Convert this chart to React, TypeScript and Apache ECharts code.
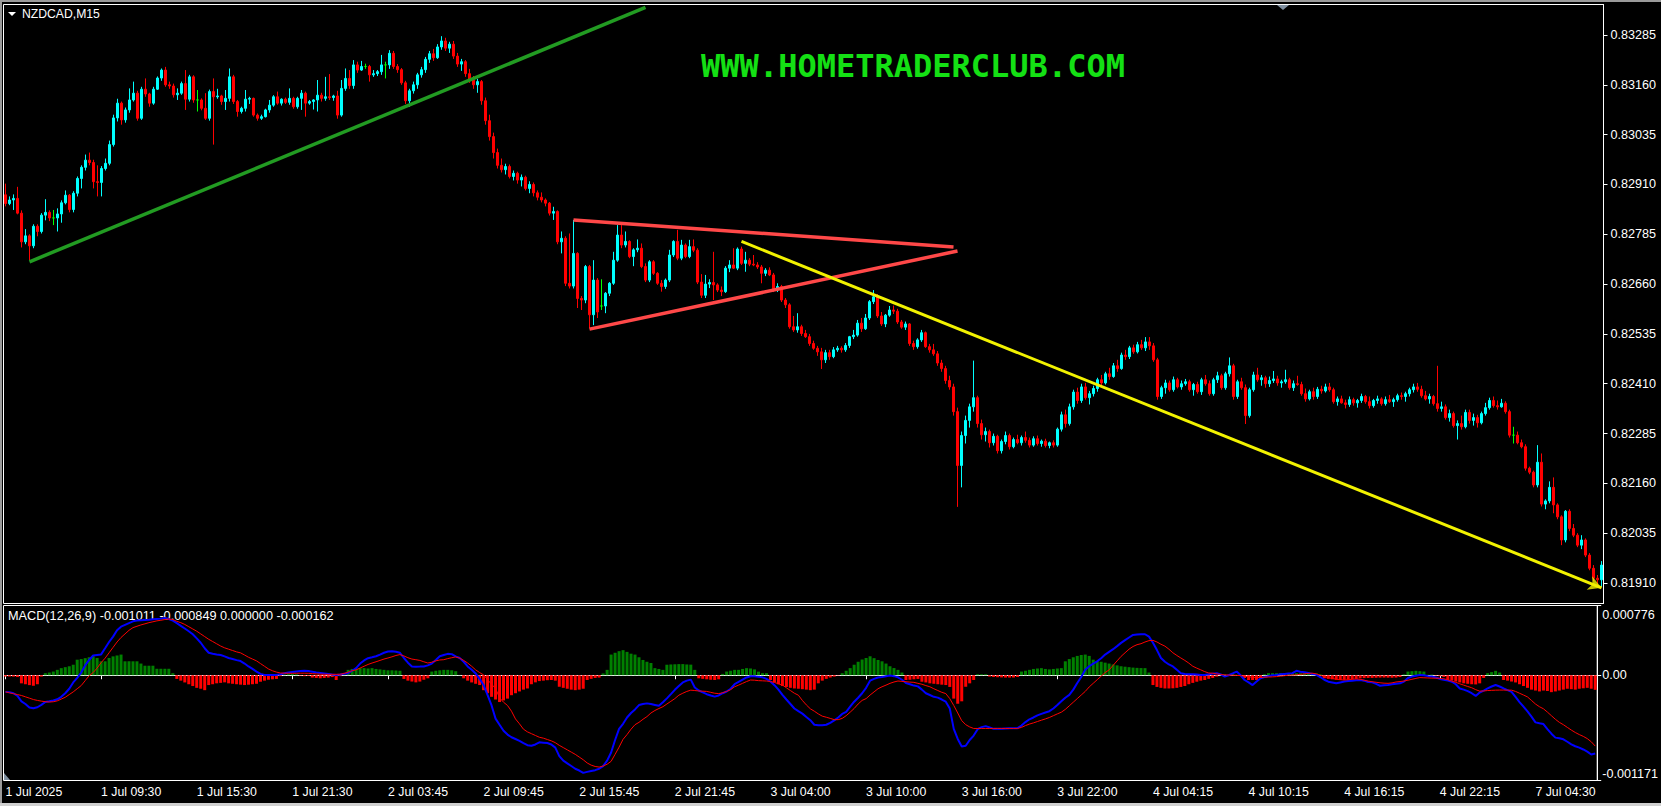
import { useEffect, useRef } from 'react';
import * as echarts from 'echarts';

// Prices are stored in points (1e-5) above 0.80000; MACD values in 1e-6 units.
const PRICE_BASE = 0.8;
const PRICE_UNIT = 1e-5;
const MACD_UNIT = 1e-6;

// [open, high, low, close]
const candles = [
  [2884,2912,2855,2862],[2862,2880,2858,2871],[2871,2885,2846,2875],[2875,2904,2835,2838],[2838,2845,2752,2766],[2766,2798,2760,2781],[2781,2785,2720,2756],[2756,2810,2750,2805],[2805,2810,2780,2792],[2792,2838,2787,2833],
  [2833,2873,2820,2840],[2840,2845,2818,2826],[2826,2846,2808,2826],[2826,2850,2792,2836],[2836,2870,2814,2864],[2864,2895,2860,2883],[2883,2886,2840,2847],[2847,2893,2840,2888],[2888,2930,2880,2925],[2925,2958,2900,2953],
  [2953,2985,2945,2971],[2971,2990,2958,2965],[2965,2972,2900,2917],[2917,2958,2880,2915],[2915,2956,2880,2950],[2950,2975,2945,2963],[2963,3020,2958,3010],[3010,3085,3005,3077],[3077,3125,3068,3114],[3114,3118,3060,3072],
  [3072,3103,3065,3097],[3097,3151,3090,3122],[3122,3168,3118,3139],[3139,3145,3070,3076],[3076,3155,3072,3149],[3149,3176,3130,3137],[3137,3140,3105,3114],[3114,3155,3110,3149],[3149,3181,3147,3177],[3177,3201,3170,3197],
  [3197,3205,3155,3160],[3160,3168,3150,3157],[3157,3163,3128,3135],[3135,3151,3122,3139],[3139,3168,3135,3163],[3163,3197,3097,3124],[3124,3185,3118,3180],[3180,3184,3115,3122],[3122,3147,3093,3122],[3122,3126,3096,3101],
  [3101,3139,3072,3076],[3076,3148,3070,3143],[3143,3176,3010,3130],[3130,3150,3125,3132],[3132,3135,3110,3118],[3118,3147,3097,3126],[3126,3201,3118,3180],[3180,3185,3112,3118],[3118,3122,3080,3093],[3093,3105,3088,3101],
  [3101,3147,3093,3124],[3124,3130,3112,3126],[3126,3128,3080,3084],[3084,3088,3070,3076],[3076,3085,3072,3080],[3080,3100,3078,3097],[3097,3122,3090,3109],[3109,3134,3105,3130],[3130,3143,3110,3114],[3114,3126,3108,3124],
  [3124,3128,3112,3116],[3116,3151,3110,3126],[3126,3130,3100,3105],[3105,3130,3100,3126],[3126,3147,3097,3139],[3139,3143,3080,3114],[3114,3122,3110,3118],[3118,3124,3098,3122],[3122,3172,3093,3134],[3134,3140,3118,3126],
  [3126,3180,3120,3130],[3130,3187,3122,3128],[3128,3135,3120,3132],[3132,3145,3075,3084],[3084,3172,3080,3151],[3151,3201,3145,3176],[3176,3197,3150,3158],[3158,3222,3150,3210],[3210,3218,3190,3197],[3197,3220,3195,3206],
  [3206,3213,3200,3206],[3206,3210,3168,3185],[3185,3197,3180,3188],[3188,3197,3182,3193],[3193,3235,3185,3210],[3210,3218,3176,3210],[3210,3247,3200,3239],[3239,3245,3200,3206],[3206,3212,3190,3198],[3198,3202,3160,3165],
  [3165,3170,3112,3120],[3120,3150,3105,3145],[3145,3168,3138,3160],[3160,3190,3150,3185],[3185,3205,3178,3198],[3198,3230,3190,3224],[3224,3245,3215,3238],[3238,3250,3220,3228],[3228,3262,3225,3255],[3255,3282,3248,3270],
  [3270,3278,3245,3252],[3252,3268,3240,3262],[3262,3270,3225,3232],[3232,3240,3205,3212],[3212,3225,3195,3218],[3218,3222,3180,3188],[3188,3200,3165,3172],[3172,3182,3150,3160],[3160,3175,3140,3168],[3168,3172,3110,3120],
  [3120,3128,3060,3070],[3070,3085,3020,3030],[3030,3040,2975,2990],[2990,3000,2950,2958],[2958,2975,2940,2947],[2947,2962,2935,2955],[2955,2960,2925,2930],[2930,2945,2920,2938],[2938,2942,2912,2921],[2921,2935,2905,2928],
  [2928,2932,2895,2900],[2900,2918,2888,2910],[2910,2915,2880,2889],[2889,2895,2870,2878],[2878,2890,2865,2871],[2871,2875,2855,2863],[2863,2866,2832,2838],[2838,2854,2821,2842],[2842,2845,2760,2766],[2766,2792,2737,2775],
  [2775,2780,2655,2662],[2662,2787,2649,2655],[2655,2821,2649,2737],[2737,2740,2600,2624],[2624,2630,2595,2620],[2620,2708,2612,2704],[2704,2708,2549,2583],[2583,2720,2557,2670],[2670,2675,2575,2590],[2605,2672,2595,2605],
  [2605,2640,2587,2637],[2637,2665,2630,2662],[2662,2741,2658,2720],[2720,2808,2716,2783],[2783,2808,2750,2758],[2758,2792,2752,2767],[2767,2770,2725,2729],[2729,2750,2705,2746],[2746,2772,2740,2750],[2750,2762,2700,2704],
  [2704,2712,2665,2670],[2670,2720,2665,2716],[2716,2720,2683,2687],[2687,2690,2658,2662],[2662,2670,2641,2654],[2654,2674,2648,2670],[2670,2746,2665,2733],[2733,2770,2728,2767],[2767,2796,2720,2725],[2725,2771,2720,2758],
  [2758,2762,2725,2729],[2729,2771,2725,2754],[2754,2772,2740,2745],[2745,2750,2660,2665],[2665,2685,2625,2632],[2632,2683,2625,2660],[2660,2672,2650,2664],[2664,2741,2620,2658],[2658,2662,2640,2645],[2645,2654,2630,2641],
  [2641,2705,2638,2700],[2700,2720,2690,2708],[2708,2750,2698,2700],[2700,2752,2695,2748],[2748,2754,2708,2712],[2712,2741,2691,2720],[2720,2725,2705,2710],[2710,2733,2705,2708],[2708,2715,2698,2703],[2703,2708,2662,2687],
  [2687,2700,2680,2695],[2695,2702,2680,2683],[2683,2688,2640,2645],[2645,2662,2640,2654],[2654,2658,2615,2620],[2620,2625,2600,2608],[2608,2612,2548,2553],[2553,2580,2540,2545],[2545,2587,2538,2553],[2553,2558,2530,2536],
  [2536,2545,2525,2528],[2528,2535,2505,2511],[2511,2518,2495,2499],[2499,2505,2480,2490],[2490,2500,2447,2470],[2470,2495,2462,2488],[2488,2495,2470,2478],[2478,2502,2474,2495],[2495,2505,2490,2499],[2499,2504,2488,2495],
  [2495,2512,2490,2506],[2506,2530,2500,2528],[2528,2545,2522,2532],[2532,2570,2528,2562],[2562,2575,2540,2548],[2548,2585,2545,2575],[2575,2620,2570,2616],[2616,2645,2610,2628],[2628,2635,2575,2580],[2580,2590,2555,2560],
  [2560,2585,2552,2582],[2582,2605,2578,2595],[2595,2606,2585,2592],[2592,2598,2560,2565],[2565,2570,2548,2552],[2552,2566,2545,2560],[2560,2562,2505,2511],[2511,2518,2495,2503],[2503,2524,2498,2520],[2520,2545,2515,2538],
  [2538,2541,2500,2503],[2503,2510,2488,2495],[2495,2510,2480,2485],[2485,2492,2455,2462],[2462,2470,2440,2448],[2448,2455,2410,2418],[2418,2430,2395,2402],[2402,2410,2330,2340],[2340,2350,2101,2205],[2205,2290,2150,2280],
  [2280,2330,2260,2318],[2318,2360,2300,2352],[2352,2468,2340,2375],[2375,2380,2300,2310],[2310,2320,2270,2282],[2282,2300,2265,2290],[2290,2295,2250,2262],[2262,2285,2255,2278],[2278,2282,2235,2242],[2242,2270,2235,2265],
  [2265,2290,2258,2280],[2280,2285,2245,2252],[2252,2275,2248,2270],[2270,2282,2258,2262],[2262,2280,2255,2275],[2275,2290,2262,2268],[2268,2275,2250,2256],[2256,2278,2252,2272],[2272,2280,2255,2260],[2260,2270,2252,2266],
  [2266,2272,2250,2255],[2255,2265,2248,2262],[2262,2268,2250,2256],[2256,2300,2252,2296],[2296,2340,2290,2332],[2332,2345,2300,2310],[2310,2360,2305,2352],[2352,2395,2345,2389],[2389,2400,2360,2368],[2368,2410,2362,2402],
  [2402,2412,2370,2375],[2375,2392,2358,2385],[2385,2405,2378,2398],[2398,2425,2390,2420],[2420,2432,2405,2412],[2412,2440,2408,2435],[2435,2450,2420,2428],[2428,2462,2425,2455],[2455,2470,2440,2448],[2448,2488,2445,2482],
  [2482,2495,2470,2478],[2478,2505,2472,2500],[2500,2508,2485,2490],[2490,2515,2486,2508],[2508,2520,2495,2500],[2500,2527,2492,2515],[2515,2527,2495,2505],[2505,2512,2465,2470],[2470,2475,2370,2378],[2378,2405,2372,2400],
  [2400,2420,2385,2412],[2412,2418,2390,2395],[2395,2428,2390,2420],[2420,2425,2398,2402],[2402,2418,2395,2410],[2410,2422,2405,2415],[2415,2420,2390,2395],[2395,2412,2380,2408],[2408,2415,2385,2390],[2390,2425,2382,2420],
  [2420,2432,2405,2410],[2410,2418,2380,2385],[2385,2425,2380,2420],[2420,2440,2412,2430],[2430,2435,2395,2400],[2400,2440,2395,2435],[2435,2476,2428,2455],[2455,2460,2370,2378],[2378,2420,2372,2415],[2415,2425,2395,2400],
  [2400,2408,2309,2330],[2330,2400,2325,2395],[2395,2440,2390,2432],[2432,2450,2415,2420],[2420,2432,2405,2425],[2425,2430,2400,2410],[2410,2428,2402,2418],[2418,2442,2412,2422],[2422,2430,2405,2412],[2412,2420,2400,2415],
  [2415,2445,2410,2420],[2420,2425,2395,2400],[2400,2418,2392,2410],[2410,2430,2405,2408],[2408,2415,2380,2385],[2385,2398,2365,2372],[2372,2395,2368,2390],[2390,2400,2370,2378],[2378,2402,2372,2396],[2396,2405,2385,2392],
  [2392,2410,2388,2402],[2402,2412,2390,2395],[2395,2400,2360,2365],[2365,2378,2355,2372],[2372,2380,2360,2362],[2362,2370,2348,2358],[2358,2378,2352,2370],[2370,2375,2355,2362],[2362,2372,2350,2368],[2368,2385,2362,2378],
  [2378,2382,2360,2365],[2365,2378,2348,2355],[2355,2372,2350,2368],[2368,2380,2360,2372],[2372,2376,2355,2360],[2360,2378,2355,2370],[2370,2382,2362,2365],[2365,2375,2352,2370],[2370,2385,2365,2380],[2380,2388,2370,2378],
  [2378,2390,2365,2385],[2385,2400,2378,2395],[2395,2410,2388,2402],[2402,2412,2390,2396],[2396,2405,2375,2380],[2380,2392,2368,2372],[2372,2385,2360,2378],[2378,2382,2355,2360],[2360,2455,2340,2348],[2348,2365,2340,2352],
  [2352,2358,2320,2325],[2325,2345,2315,2335],[2335,2340,2300,2305],[2305,2318,2270,2310],[2310,2330,2295,2302],[2302,2345,2298,2338],[2338,2345,2310,2318],[2318,2335,2305,2325],[2325,2332,2300,2312],[2312,2340,2308,2335],
  [2335,2362,2330,2350],[2350,2375,2345,2368],[2368,2378,2350,2355],[2355,2368,2345,2352],[2352,2372,2350,2361],[2361,2366,2335,2340],[2340,2345,2275,2281],[2281,2302,2260,2281],[2281,2290,2258,2262],[2262,2270,2248,2252],
  [2252,2258,2192,2198],[2198,2202,2183,2188],[2188,2192,2150,2156],[2156,2256,2150,2213],[2213,2235,2102,2108],[2108,2120,2095,2116],[2116,2165,2110,2150],[2150,2175,2085,2106],[2106,2110,2070,2076],[2076,2080,2005,2018],
  [2018,2093,2012,2090],[2090,2095,2040,2047],[2047,2058,2025,2030],[2030,2035,2000,2005],[2005,2030,1995,2018],[2018,2022,1975,1980],[1980,1985,1942,1947],[1947,1955,1915,1922],[1922,1930,1905,1918],[1918,1965,1900,1955],
];

const macdMain = [
  -185,-190,-200,-230,-290,-320,-360,-368,-356,-330,
  -298,-290,-280,-268,-240,-200,-150,-80,-30,30,
  110,170,220,226,232,300,370,430,500,540,
  560,580,600,608,612,615,618,622,626,630,
  637,625,607,580,550,520,490,456,410,362,
  300,250,240,232,225,210,192,180,168,158,
  130,98,70,41,15,4,4,4,4,12,
  22,30,36,42,48,50,48,40,32,26,
  20,14,8,4,8,16,23,50,80,130,
  165,190,200,211,230,250,265,268,262,250,
  192,140,98,95,96,98,110,130,170,211,
  225,238,235,210,192,150,98,60,20,-40,
  -109,-220,-336,-483,-550,-618,-660,-690,-709,-730,
  -755,-778,-784,-770,-746,-750,-754,-770,-805,-900,
  -950,-980,-1010,-1040,-1060,-1086,-1075,-1065,-1056,-1040,
  -1011,-950,-860,-720,-596,-540,-470,-420,-380,-332,
  -320,-313,-320,-330,-340,-300,-257,-210,-162,-120,
  -80,-60,-49,-136,-170,-190,-211,-225,-238,-225,
  -200,-181,-150,-100,-75,-50,-25,-11,-12,-18,
  -23,-40,-70,-110,-160,-219,-270,-320,-370,-400,
  -427,-464,-500,-551,-555,-555,-551,-530,-502,-470,
  -430,-408,-350,-294,-250,-200,-140,-60,-40,-25,
  -20,-12,-4,-10,-23,-50,-87,-100,-115,-124,
  -160,-200,-220,-240,-249,-270,-294,-370,-596,-709,
  -792,-784,-720,-671,-600,-577,-566,-580,-596,-596,
  -596,-592,-590,-589,-589,-560,-521,-490,-470,-446,
  -430,-415,-400,-370,-332,-290,-250,-219,-160,-87,
  -20,60,100,130,155,190,230,260,290,324,
  360,390,420,449,452,455,456,430,362,280,
  192,150,120,98,60,23,15,12,11,8,
  4,4,10,18,23,10,-15,0,20,41,
  0,-53,-80,-109,-70,-34,-20,-10,0,4,
  10,15,20,23,49,40,34,25,15,4,
  -20,-50,-72,-80,-90,-80,-70,-64,-60,-55,
  -53,-60,-75,-79,-95,-117,-112,-109,-100,-95,
  -90,-70,-30,-15,-5,4,0,-10,-15,-25,
  -41,-50,-60,-72,-100,-147,-160,-177,-200,-230,
  -192,-170,-147,-125,-109,-125,-147,-165,-185,-240,
  -298,-350,-403,-460,-524,-535,-543,-600,-650,-694,
  -700,-713,-740,-769,-790,-805,-826,-850,-882,-871,
];

const macdSignal = [
  -185,-195,-205,-215,-225,-240,-255,-270,-280,-288,
  -294,-298,-295,-285,-265,-245,-215,-185,-150,-115,
  -60,-5,30,80,140,190,250,310,370,420,
  460,500,530,545,560,572,585,595,605,612,
  620,626,620,600,585,565,540,515,490,460,
  430,400,375,350,325,305,290,275,260,249,
  225,200,180,160,130,100,70,50,35,25,
  23,22,22,22,23,23,22,18,15,12,
  11,10,10,10,11,20,35,50,60,80,
  100,120,136,150,165,180,192,205,220,230,
  215,195,180,173,165,150,136,145,160,170,
  173,185,195,204,190,165,136,100,60,30,
  4,-50,-100,-147,-250,-300,-336,-400,-486,-540,
  -600,-630,-650,-670,-690,-700,-715,-730,-750,-780,
  -805,-830,-855,-880,-910,-940,-976,-1000,-1015,-1022,
  -1010,-990,-958,-880,-800,-713,-660,-600,-550,-524,
  -490,-460,-420,-392,-370,-350,-320,-290,-260,-222,
  -200,-180,-166,-170,-175,-177,-180,-190,-200,-204,
  -195,-180,-160,-128,-110,-90,-70,-53,-55,-60,
  -62,-64,-70,-80,-95,-109,-140,-170,-200,-222,
  -280,-330,-373,-400,-430,-455,-467,-480,-494,-494,
  -480,-450,-411,-370,-320,-280,-260,-220,-185,-150,
  -128,-110,-90,-75,-64,-68,-72,-76,-79,-90,
  -100,-115,-128,-150,-170,-190,-204,-260,-336,-420,
  -505,-550,-575,-592,-592,-592,-592,-592,-592,-592,
  -592,-592,-592,-592,-592,-580,-560,-543,-530,-515,
  -500,-486,-470,-450,-430,-411,-380,-340,-300,-260,
  -220,-180,-130,-90,-50,-10,30,60,110,160,
  210,250,290,320,340,351,370,385,388,370,
  345,324,290,250,220,192,165,135,100,79,
  60,40,25,23,15,8,4,2,0,-2,
  -4,-10,-18,-22,-26,-25,-22,-20,-18,-15,
  -10,-5,0,2,4,10,15,20,23,15,
  0,-15,-26,-35,-45,-50,-53,-50,-45,-41,
  -45,-55,-65,-72,-78,-84,-88,-90,-85,-75,
  -70,-64,-55,-45,-35,-26,-28,-30,-32,-33,
  -34,-40,-50,-65,-79,-95,-110,-125,-139,-160,
  -177,-175,-170,-168,-166,-165,-165,-166,-166,-180,
  -200,-220,-241,-280,-320,-350,-373,-410,-450,-490,
  -524,-550,-580,-610,-637,-660,-680,-705,-740,-788,
];

const macdHist = [
  -15,-15,-15,-20,-90,-100,-110,-117,-100,-15,
  23,30,41,60,79,90,100,117,173,180,
  190,200,211,192,155,155,192,210,220,230,
  155,155,155,155,130,106,106,106,72,72,
  72,72,23,-41,-60,-80,-100,-120,-140,-150,
  -166,-109,-100,-90,-85,-79,-90,-95,-100,-105,
  -109,-105,-100,-95,-72,-60,-50,-45,-41,-10,
  8,12,15,10,-5,-10,-8,-26,-30,-34,
  -30,-26,-20,-53,-10,5,60,70,75,79,
  79,75,79,70,65,60,55,55,53,50,
  -41,-60,-70,-79,-70,-50,-34,41,50,55,
  60,60,55,45,4,-34,-60,-80,-95,-109,
  -166,-200,-240,-270,-298,-280,-260,-222,-200,-180,
  -160,-147,-100,-79,-65,-60,-55,-53,-60,-128,
  -140,-150,-160,-166,-160,-150,-53,-40,-30,-26,
  20,60,230,250,268,279,260,240,230,200,
  170,150,136,79,70,60,117,120,122,124,
  124,120,118,60,-34,-40,-45,-50,-53,-45,
  15,41,50,60,60,70,79,75,65,40,
  23,23,-53,-80,-100,-120,-130,-140,-147,-150,
  -155,-160,-166,-160,-90,-60,-40,-25,-15,-4,
  23,50,79,117,150,175,192,211,190,170,
  155,130,100,80,60,30,-53,-50,-45,-41,
  -72,-80,-90,-95,-100,-105,-109,-130,-260,-317,
  -290,-128,-90,-53,11,11,11,-15,-20,-22,
  -24,-26,-26,-25,-20,41,50,60,70,75,
  79,70,65,70,75,79,155,180,200,215,
  225,230,215,173,160,150,140,130,120,110,
  100,95,90,85,82,80,79,30,-109,-130,
  -140,-147,-147,-145,-140,-130,-120,-100,-85,-72,
  -60,-53,-40,-30,-15,5,10,-8,12,5,
  -5,-30,-53,-53,-53,-40,10,23,23,23,
  23,23,23,23,23,23,23,23,23,20,
  10,-34,-40,-45,-50,-53,-50,-48,-45,-40,
  -34,-32,-30,-30,-28,-26,-26,-27,-28,-26,
  -20,10,41,45,49,45,41,5,8,-5,
  -10,-20,-53,-60,-70,-80,-90,-95,-100,-102,
  -90,-30,23,35,49,30,-53,-60,-70,-80,
  -100,-120,-140,-160,-170,-180,-170,-175,-188,-180,
  -170,-160,-150,-155,-160,-150,-145,-140,-150,-162,
];

const priceTicks = [0.8191, 0.82035, 0.8216, 0.82285, 0.8241, 0.82535, 0.8266, 0.82785, 0.8291, 0.83035, 0.8316, 0.83285];
const macdTicks = [0.000776, 0, -0.001171];
const macdTickLabels = ['0.000776', '0.00', '-0.001171'];
const TIME_LABEL_STEP = 24;
const timeLabels = [
  '1 Jul 2025', '1 Jul 09:30', '1 Jul 15:30', '1 Jul 21:30', '2 Jul 03:45', '2 Jul 09:45',
  '2 Jul 15:45', '2 Jul 21:45', '3 Jul 04:00', '3 Jul 10:00', '3 Jul 16:00', '3 Jul 22:00',
  '4 Jul 04:15', '4 Jul 10:15', '4 Jul 16:15', '4 Jul 22:15', '7 Jul 04:30',
];

// drawn objects: [bar index, price points]
const trendGreen = [[6, 2716], [160, 3354]];
const triangleTop = [[142, 2821], [237, 2753]];
const triangleBottom = [[146, 2547], [238, 2743]];
const trendYellow = [[184, 2767], [399, 1898]];

const FONT = '"Liberation Sans", Arial, sans-serif';
const toPrice = (p: number) => +(PRICE_BASE + p * PRICE_UNIT).toFixed(5);

function buildOption() {
  const cats = candles.map((_, i) => String(i));
  const showAt = (i: number) => i % TIME_LABEL_STEP === 0;
  const trend = (pts: number[][], color: string, width: number) => ({
    type: 'line', xAxisIndex: 0, yAxisIndex: 0, silent: true, z: 5, clip: false,
    symbol: 'none', data: pts.map(([i, p]) => [i, toPrice(p)]),
    lineStyle: { color, width }, itemStyle: { color },
  });
  const yellowEnd = trendYellow[1];
  return {
    animation: false,
    backgroundColor: '#000000',
    grid: [
      { left: 3.5, top: 4.5, width: 1600, height: 599, show: true, borderColor: '#ffffff', borderWidth: 1 },
      { left: 3.5, top: 605.5, width: 1600, height: 175, show: true, borderColor: '#ffffff', borderWidth: 1 },
    ],
    xAxis: [
      { type: 'category', gridIndex: 0, data: cats, boundaryGap: true, axisLine: { show: false }, axisTick: { show: false }, axisLabel: { show: false }, splitLine: { show: false } },
      {
        type: 'category', gridIndex: 1, data: cats, boundaryGap: true,
        axisLine: { show: true, lineStyle: { color: '#ffffff' } },
        axisTick: { show: true, alignWithLabel: true, interval: (i: number) => showAt(i), length: 4, lineStyle: { color: '#ffffff' } },
        axisLabel: {
          interval: (i: number) => showAt(i),
          formatter: (_v: string, i: number) => (showAt(i) ? timeLabels[i / TIME_LABEL_STEP] ?? '' : ''),
          color: '#ffffff', fontFamily: FONT, fontSize: 12.3, align: 'left', margin: 5,
        },
        splitLine: { show: false },
      },
    ],
    yAxis: [
      {
        type: 'value', gridIndex: 0, position: 'right', min: 0.818586, max: 0.833615,
        splitLine: { show: false },
        axisLine: { show: true, lineStyle: { color: '#ffffff' } },
        axisTick: { show: true, customValues: priceTicks, length: 4, lineStyle: { color: '#ffffff' } },
        axisLabel: { customValues: priceTicks, formatter: (v: number) => v.toFixed(5), color: '#ffffff', fontFamily: FONT, fontSize: 12.6, margin: 7 },
      },
      {
        type: 'value', gridIndex: 1, position: 'right', min: -0.001171, max: 0.000776,
        splitLine: { show: false },
        axisLine: { show: true, lineStyle: { color: '#ffffff' } },
        axisTick: { show: true, customValues: macdTicks, length: 4, lineStyle: { color: '#ffffff' } },
        axisLabel: {
          customValues: macdTicks,
          formatter: (v: number) => {
            const k = macdTicks.findIndex((t) => Math.abs(t - v) < 1e-9);
            const s = k >= 0 ? macdTickLabels[k] : '';
            if (v > 1e-9) return `{top|${s}}`;
            if (v < -1e-9) return `{bot|${s}}`;
            return s;
          },
          color: '#ffffff', fontFamily: FONT, fontSize: 12.6, margin: 5,
          rich: {
            top: { color: '#ffffff', fontFamily: FONT, fontSize: 12.6, padding: [18, 0, 0, 0] },
            bot: { color: '#ffffff', fontFamily: FONT, fontSize: 12.6, padding: [0, 0, 14, 0] },
          },
        },
      },
    ],
    graphic: [
      { type: 'rect', shape: { x: 0, y: 0, width: 1661, height: 2 }, style: { fill: '#9a9a9a' }, silent: true },
      { type: 'rect', shape: { x: 0, y: 0, width: 2, height: 806 }, style: { fill: '#9a9a9a' }, silent: true },
      { type: 'rect', shape: { x: 0, y: 803, width: 1661, height: 3 }, style: { fill: '#d0d0d0' }, silent: true },
      { type: 'polygon', shape: { points: [[8, 12], [16, 12], [12, 16]] }, style: { fill: '#ffffff' }, silent: true },
      { type: 'polygon', shape: { points: [[1277, 5], [1289, 5], [1283, 10]] }, style: { fill: '#7f8fa0' }, silent: true },
      { type: 'polygon', shape: { points: [[4, 773], [4, 780], [10, 780]] }, style: { fill: '#8090a0' }, silent: true },
      { type: 'text', x: 22, y: 8, style: { text: 'NZDCAD,M15', fill: '#ffffff', fontFamily: FONT, fontSize: 12.2 }, silent: true },
      { type: 'text', x: 8, y: 609, style: { text: 'MACD(12,26,9) -0.001011 -0.000849 0.000000 -0.000162', fill: '#ffffff', fontFamily: FONT, fontSize: 12.7 }, silent: true },
      {
        type: 'text', x: 913, y: 66, silent: true,
        style: { text: 'WWW.HOMETRADERCLUB.COM', fill: '#14e014', fontFamily: '"DejaVu Sans Mono", monospace', fontWeight: 'bold', fontSize: 32, align: 'center', verticalAlign: 'middle' },
      },
    ],
    series: [
      {
        type: 'candlestick', xAxisIndex: 0, yAxisIndex: 0, silent: true, barWidth: 2.4,
        data: candles.map(([o, h, l, c]) => [toPrice(o), toPrice(c), toPrice(l), toPrice(h)]),
        itemStyle: { color: '#00ffff', color0: '#ff0000', borderColor: '#00ffff', borderColor0: '#ff0000', borderColorDoji: '#00ff00', borderWidth: 1 },
      },
      trend(trendGreen, '#229b22', 3.5),
      trend(triangleTop, '#ff4848', 3.5),
      trend(triangleBottom, '#ff4848', 3.5),
      trend(trendYellow, '#f2f200', 3),
      {
        type: 'scatter', xAxisIndex: 0, yAxisIndex: 0, silent: true, z: 7, clip: false,
        symbol: 'arrow', symbolSize: [11, 13], symbolRotate: -112, symbolOffset: [0, 0],
        data: [[yellowEnd[0], toPrice(yellowEnd[1])]],
        itemStyle: { color: '#f2f200' },
      },
      {
        type: 'bar', xAxisIndex: 1, yAxisIndex: 1, silent: true, barWidth: 3,
        data: macdHist.map((v) => ({ value: v * MACD_UNIT, itemStyle: { color: v >= 0 ? '#008000' : '#ff0000' } })),
      },
      {
        type: 'line', xAxisIndex: 1, yAxisIndex: 1, silent: true, symbol: 'none', z: 3,
        data: macdMain.map((v) => v * MACD_UNIT), lineStyle: { color: '#0000ff', width: 2 },
      },
      {
        type: 'line', xAxisIndex: 1, yAxisIndex: 1, silent: true, symbol: 'none', z: 4,
        data: macdSignal.map((v) => v * MACD_UNIT), lineStyle: { color: '#ff0000', width: 1 },
      },
    ],
  };
}

export default function App() {
  const ref = useRef<HTMLDivElement>(null);
  useEffect(() => {
    if (!ref.current) return;
    const chart = echarts.init(ref.current, null, { renderer: 'svg', width: 1661, height: 806 });
    chart.setOption(buildOption() as any);
    return () => chart.dispose();
  }, []);
  return <div ref={ref} style={{ position: 'fixed', left: 0, top: 0, width: 1661, height: 806, background: '#000' }} />;
}
